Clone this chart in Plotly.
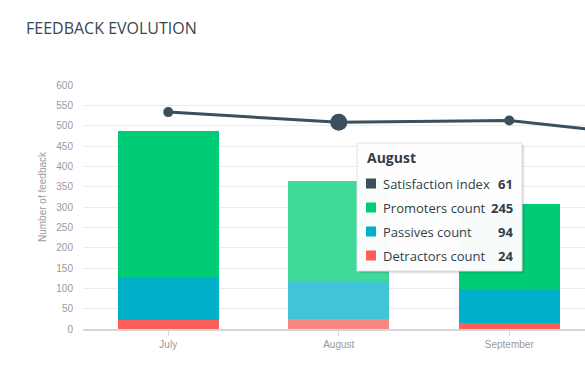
import plotly.graph_objects as go

# ---------------- data ----------------
categories = ["July", "August", "September", "October"]
bar_categories = ["July", "August", "September"]
detractors = [21, 24, 14]
passives = [107, 94, 83]
promoters = [359, 245, 211]
satisfaction = [64, 61, 61.5, 56]
y_ticks = [0, 50, 100, 150, 200, 250, 300, 350, 400, 450, 500, 550, 600]

hover_index = 1  # August highlighted with tooltip

# ---------------- styles ----------------
C_PROM = "#00cc78"
C_PROM_H = "#40d99a"
C_PASS = "#00b0c8"
C_PASS_H = "#40c4d6"
C_DET = "#fa6057"
C_DET_H = "#fb8880"
C_LINE = "#3c4f5c"
TXT = "#333d47"
GRAY = "#9a9a9a"

def colors(base, hi):
    return [hi if i == hover_index else base for i in range(len(bar_categories))]

W, H = 585, 386
L, R, T, B = 83, 585, 85, 329

def px(x):
    return (x - L) / (R - L)

def py(y):
    return (B - y) / (B - T)

fig = go.Figure()

for name, vals, base, hi in [
    ("Detractors count", detractors, C_DET, C_DET_H),
    ("Passives count", passives, C_PASS, C_PASS_H),
    ("Promoters count", promoters, C_PROM, C_PROM_H),
]:
    fig.add_trace(go.Bar(
        x=bar_categories, y=vals, name=name, width=0.59,
        marker=dict(color=colors(base, hi), line=dict(width=0)),
        hoverinfo="skip",
    ))

fig.add_trace(go.Scatter(
    x=categories, y=satisfaction, name="Satisfaction index", yaxis="y2",
    mode="lines+markers", opacity=1,
    line=dict(color=C_LINE, width=3),
    marker=dict(color=C_LINE, opacity=1, line=dict(width=0, color=C_LINE),
                size=[10 if i != hover_index else 17 for i in range(len(categories))]),
    hoverinfo="skip",
))

fig.update_layout(
    width=W, height=H,
    margin=dict(l=L, r=W - R, t=T, b=H - B),
    paper_bgcolor="white", plot_bgcolor="white",
    barmode="stack", showlegend=False,
    font=dict(family="Liberation Sans, Arial, sans-serif", size=10, color=GRAY),
    xaxis=dict(
        type="category", categoryorder="array", categoryarray=categories,
        range=[-0.5, -0.5 + (R - L) / 170.5],
        showgrid=False, zeroline=False,
        showline=True, linecolor="#d6d6d6", linewidth=2,
        ticks="outside", ticklen=5, tickcolor="#d6d6d6", tickwidth=1,
        tickfont=dict(size=10, color=GRAY),
    ),
    yaxis=dict(
        range=[0, 600], tickvals=y_ticks, showgrid=True, gridcolor="#ececec", gridwidth=1,
        zeroline=False, showline=False, ticks="", ticklabelstandoff=9,
        tickfont=dict(size=10, color=GRAY),
    ),
    yaxis2=dict(range=[0, 72], overlaying="y", side="right", visible=False, showgrid=False),
)

# ---------------- titles ----------------
fig.add_annotation(
    text="FEEDBACK EVOLUTION", xref="paper", yref="paper", x=px(24), y=py(28),
    xanchor="left", yanchor="middle", showarrow=False,
    font=dict(family="Open Sans, sans-serif", size=16, color="#3a4650"),
)
fig.add_annotation(
    text="Number of feedback", xref="paper", yref="paper", x=px(42), y=py(197),
    xanchor="center", yanchor="middle", showarrow=False, textangle=-90,
    font=dict(family="Liberation Sans, Arial, sans-serif", size=10, color=GRAY),
)

# ---------------- tooltip ----------------
bx0, bx1, by0, by1 = 357, 522, 143, 271
for off, op in [(3, 0.04), (2, 0.06), (1, 0.09)]:
    fig.add_shape(type="rect", xref="paper", yref="paper",
                  x0=px(bx0 + off), x1=px(bx1 + off), y0=py(by1 + off), y1=py(by0 + off),
                  line=dict(width=0), fillcolor=f"rgba(0,0,0,{op})", layer="above")
fig.add_shape(type="rect", xref="paper", yref="paper",
              x0=px(bx0), x1=px(bx1), y0=py(by1), y1=py(by0),
              line=dict(width=1, color="#e2e2e2"), fillcolor="rgba(255,255,255,0.97)", layer="above")

fig.add_annotation(
    text="<b>" + categories[hover_index] + "</b>", xref="paper", yref="paper",
    x=px(365), y=py(157), xanchor="left", yanchor="middle", showarrow=False,
    font=dict(family="Open Sans, sans-serif", size=14, color=TXT),
)
tip_labels = ["Satisfaction index", "Promoters count", "Passives count", "Detractors count"]
tip_values = [satisfaction[hover_index], promoters[hover_index], passives[hover_index], detractors[hover_index]]
tip_colors = [C_LINE, C_PROM, C_PASS, C_DET]
for i, (lab, val, col) in enumerate(zip(tip_labels, tip_values, tip_colors)):
    yc = 183.5 + 24 * i
    fig.add_shape(type="rect", xref="paper", yref="paper",
                  x0=px(366), x1=px(376), y0=py(yc + 5), y1=py(yc - 5),
                  line=dict(width=0), fillcolor=col, layer="above")
    fig.add_annotation(
        text=lab, xref="paper", yref="paper", x=px(381), y=py(yc),
        xanchor="left", yanchor="middle", showarrow=False,
        font=dict(family="Open Sans, sans-serif", size=13, color=TXT),
    )
    fig.add_annotation(
        text="<b>" + f"{val:g}" + "</b>", xref="paper", yref="paper", x=px(515), y=py(yc),
        xanchor="right", yanchor="middle", showarrow=False,
        font=dict(family="Open Sans, sans-serif", size=13, color=TXT),
    )

fig.write_html(
    "out.html",
    config={"displayModeBar": False, "staticPlot": True},
    post_script="document.body.style.margin='0';document.body.style.overflow='hidden';",
)
